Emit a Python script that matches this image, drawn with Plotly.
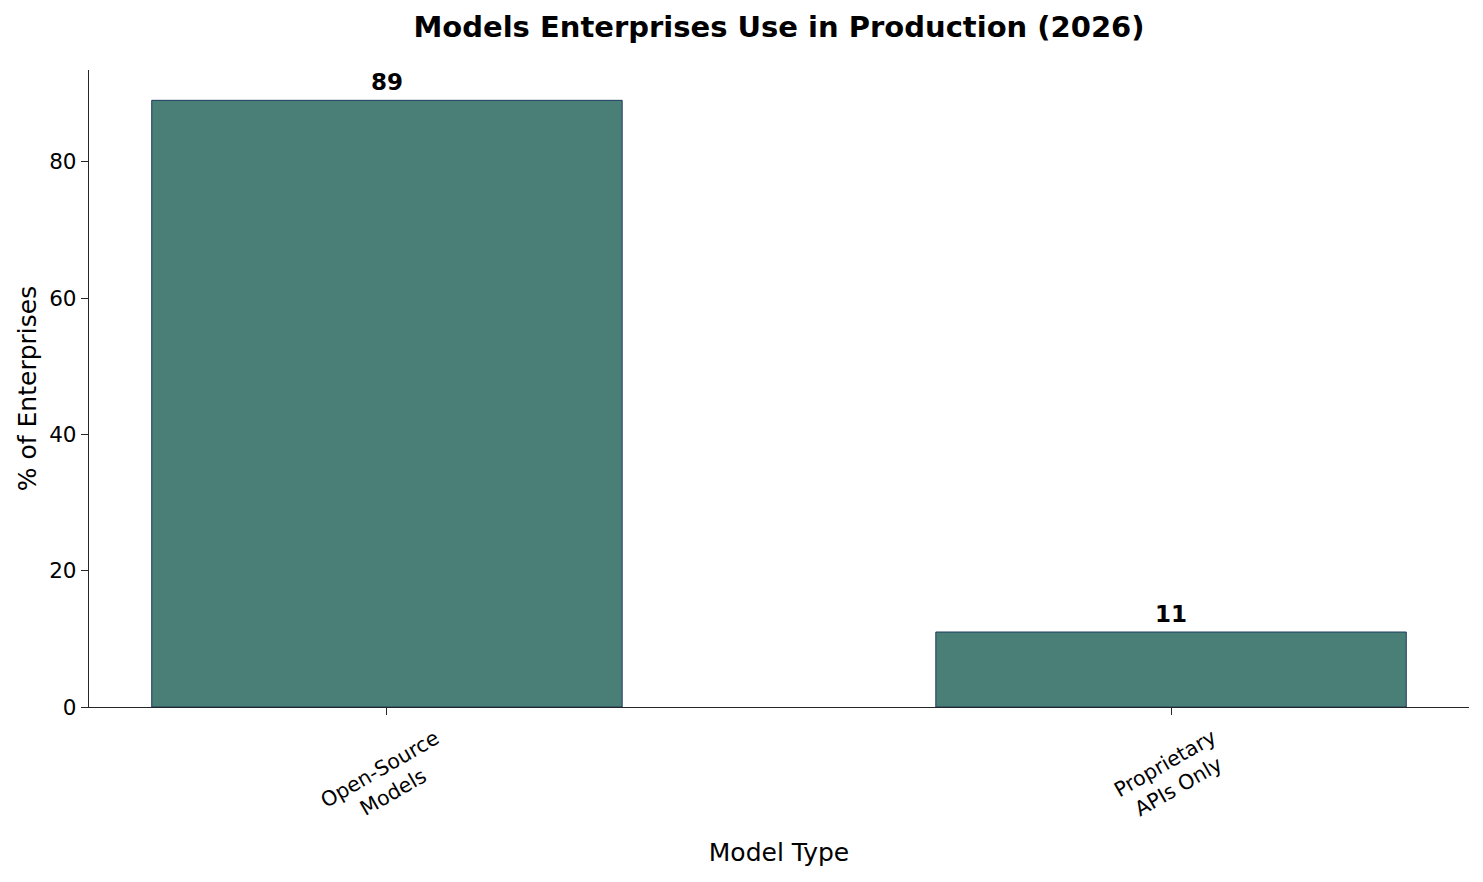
import plotly.graph_objects as go

categories = ["Open-Source<br>Models", "Proprietary<br>APIs Only"]
values = [89, 11]
y_ticks = [0, 20, 40, 60, 80]

FONT = "DejaVu Sans"
fig = go.Figure()
fig.add_trace(go.Bar(
    x=list(range(len(categories))), y=values, width=0.6,
    marker=dict(color="#4a7f78", line=dict(color="#1f3a5f", width=1)),
    hoverinfo="skip",
))
for i, (c, v) in enumerate(zip(categories, values)):
    fig.add_annotation(x=i, y=v, text=f"<b>{v}</b>", showarrow=False,
                       yanchor="bottom", yshift=3, font=dict(family=FONT, size=23, color="black"))
    fig.add_annotation(x=i, y=0, yref="y", text=c, showarrow=False, textangle=-30,
                       xanchor="center", yanchor="top", yshift=-15,
                       font=dict(family=FONT, size=20.5, color="black"))

fig.update_layout(
    width=1483, height=882,
    margin=dict(l=89, r=14, t=70, b=175),
    plot_bgcolor="white", paper_bgcolor="white",
    showlegend=False,
    title=dict(text="<b>Models Enterprises Use in Production (2026)</b>", x=0.5, xref="paper",
               xanchor="center", y=0.97, yanchor="middle",
               font=dict(family=FONT, size=29, color="black")),
    xaxis=dict(range=[-0.38, 1.38], tickvals=[0, 1], showticklabels=False, ticks="outside",
               ticklen=7, tickwidth=1.3, tickcolor="#262626", showline=True, linecolor="#262626",
               linewidth=1.3, showgrid=False, zeroline=False,
               title=dict(text="Model Type", font=dict(family=FONT, size=25, color="black"), standoff=129)),
    yaxis=dict(range=[0, 93.45], tickvals=y_ticks, ticks="outside", ticklen=7, tickwidth=1.3,
               tickcolor="#262626", showline=True, linecolor="#262626", linewidth=1.3,
               showgrid=False, zeroline=False,
               tickfont=dict(family=FONT, size=21.5, color="black"),
               title=dict(text="% of Enterprises", font=dict(family=FONT, size=25, color="black"), standoff=5)),
)
fig.write_html("out.html")
